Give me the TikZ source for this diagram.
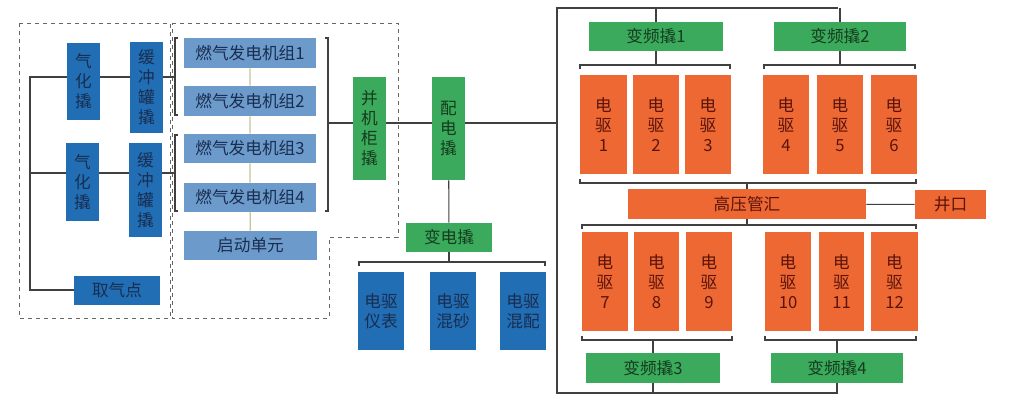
\documentclass[tikz,border=0pt]{standalone}
\usepackage{fontspec}
\setmainfont{Noto Sans CJK SC}
\begin{document}
\begin{tikzpicture}[x=0.75pt,y=-0.75pt,
  box/.style={draw=none,inner sep=0pt,align=center,font=\fontsize{12.5}{15}\selectfont},
  dblue/.style={box,fill=dblueC,text=txtB},
  lblue/.style={box,fill=lblueC,text=txtB},
  grn/.style={box,fill=grnC,text=txtG},
  org/.style={box,fill=orgC,text=txtO},
  ln/.style={draw=black!75,line width=0.8pt},
  dsh/.style={draw=black!60,dashed,line width=0.6pt}]
\definecolor{dblueC}{RGB}{33,110,180}
\definecolor{lblueC}{RGB}{108,155,203}
\definecolor{grnC}{RGB}{60,170,92}
\definecolor{orgC}{RGB}{238,104,52}
\definecolor{txtB}{RGB}{25,45,80}
\definecolor{txtG}{RGB}{20,60,30}
\definecolor{txtO}{RGB}{90,20,10}
\useasboundingbox (0,0) rectangle (1013,410);
\fill[white] (0,0) rectangle (1013,410);
\newcommand{\bx}[6]{\node[#1,minimum width={(#4-#2)*0.75pt},minimum height={(#5-#3)*0.75pt}] (#6) at ({(#2+#4)/2},{(#3+#5)/2})}
% dashed regions
\draw[dsh] (19,23) rectangle (170,318);
\draw[dsh] (172,23) -- (398,23) -- (398,237) -- (329,237) -- (329,318) -- (172,318) -- cycle;
% left
\bx{dblue}{67}{43}{100}{120}{g1} {气\\化\\撬};
\bx{dblue}{130}{42}{163}{133}{b1} {缓\\冲\\罐\\撬};
\bx{dblue}{66}{143}{99}{221}{g2} {气\\化\\撬};
\bx{dblue}{129}{143}{162}{237}{b2} {缓\\冲\\罐\\撬};
\bx{dblue}{74}{276}{160}{305}{qq} {取气点};
\coordinate (lt) at (30,77); \coordinate (lm) at (30,173); \coordinate (lb) at (30,290);
\draw[ln] (g1.west|-lt) -- (lt) -- (lb) -- (qq.west|-lb);
\draw[ln] (lm) -- (g2.west|-lm);
\draw[ln] (g1.east|-lt) -- (b1.west|-lt);
\draw[ln] (g2.east|-lm) -- (b2.west|-lm);
% generators
\bx{lblue}{184}{38}{316}{68}{e1} {燃气发电机组1};
\bx{lblue}{184}{86}{316}{116}{e2} {燃气发电机组2};
\bx{lblue}{184}{134}{316}{163}{e3} {燃气发电机组3};
\bx{lblue}{184}{183}{316}{212}{e4} {燃气发电机组4};
\bx{lblue}{184}{231}{317}{260}{qd} {启动单元};
\draw[draw={rgb,255:red,200;green,195;blue,150},line width=1pt] (e1) -- (e2) -- (e3) -- (e4) -- (qd);
\draw[ln] (178,38) -- (175,38) -- (175,115) -- (178,115);
\draw[ln] (178,135) -- (175,135) -- (175,211) -- (178,211);
\draw[ln] (b1.east|-lt) -- (175,77);
\draw[ln] (b2.east|-lm) -- (175,173);
\draw[ln] (325,38) -- (328,38) -- (328,211) -- (325,211);
\bx{grn}{353}{77}{386}{180}{bj} {并\\机\\柜\\撬};
\bx{grn}{432}{77}{465}{180}{pd} {配\\电\\撬};
\draw[ln] (328,123) -- (bj.west|-0,123);
\draw[ln] (bj.east|-0,123) -- (pd.west|-0,123);
\coordinate (rb) at (557,123);
\draw[ln] (pd.east|-rb) -- (rb);
\bx{grn}{406}{223}{492}{252}{bd} {变电撬};
\draw[ln] (pd) -- (bd);
\draw[ln] (359,266) -- (359,262) -- (545,262) -- (545,266);
\draw[ln] (bd.south) -- (449,262);
\bx{dblue}{358}{272}{404}{350}{d1} {电驱\\仪表};
\bx{dblue}{430}{272}{476}{350}{d2} {电驱\\混砂};
\bx{dblue}{500}{272}{546}{350}{d3} {电驱\\混配};
% right bus
\draw[ln] (838,8) -- (557,8) -- (557,393) -- (838,393);
\bx{grn}{589}{22}{723}{51}{v1} {变频撬1};
\bx{grn}{774}{22}{906}{51}{v2} {变频撬2};
\bx{grn}{586}{353}{720}{383}{v3} {变频撬3};
\bx{grn}{771}{353}{903}{383}{v4} {变频撬4};
\draw[ln] (v1.north) -- (v1.north|-0,8);
\draw[ln] (v2.north) -- (v2.north|-0,8);
\draw[ln] (v3.south) -- (v3.south|-0,393);
\draw[ln] (v4.south) -- (v4.south|-0,393);
% brackets
\draw[ln] (580,69) -- (580,65) -- (730,65) -- (730,69);
\draw[ln] (764,69) -- (764,65) -- (915,65) -- (915,69);
\draw[ln] (v1.south) -- (v1.south|-0,65);
\draw[ln] (v2.south) -- (v2.south|-0,65);
\draw[ln] (580,179) -- (580,183) -- (916,183) -- (916,179);
\draw[ln] (582,229) -- (582,225) -- (916,225) -- (916,229);
\draw[ln] (582,336) -- (582,340) -- (732,340) -- (732,336);
\draw[ln] (765,336) -- (765,340) -- (916,340) -- (916,336);
\draw[ln] (v3.north) -- (v3.north|-0,340);
\draw[ln] (v4.north) -- (v4.north|-0,340);
\bx{org}{628}{189}{866}{219}{gy} {高压管汇};
\bx{org}{915}{190}{986}{219}{jk} {井口};
\draw[ln] (gy.north) -- (gy.north|-0,183);
\draw[ln] (gy.south) -- (gy.south|-0,225);
\draw[ln] (gy) -- (jk);
\bx{org}{580}{75}{627}{174}{q1} {电\\驱\\1};
\bx{org}{633}{75}{679}{174}{q2} {电\\驱\\2};
\bx{org}{685}{75}{731}{174}{q3} {电\\驱\\3};
\bx{org}{763}{75}{809}{174}{q4} {电\\驱\\4};
\bx{org}{817}{75}{863}{174}{q5} {电\\驱\\5};
\bx{org}{871}{75}{917}{174}{q6} {电\\驱\\6};
\bx{org}{582}{232}{628}{331}{q7} {电\\驱\\7};
\bx{org}{634}{232}{679}{331}{q8} {电\\驱\\8};
\bx{org}{686}{232}{732}{331}{q9} {电\\驱\\9};
\bx{org}{765}{232}{811}{331}{q10} {电\\驱\\10};
\bx{org}{819}{232}{864}{331}{q11} {电\\驱\\11};
\bx{org}{871}{232}{918}{331}{q12} {电\\驱\\12};
\end{tikzpicture}
\end{document}
